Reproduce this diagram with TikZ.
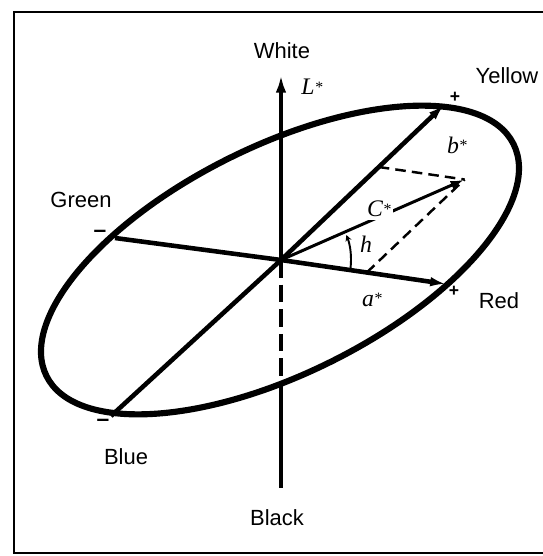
\documentclass[tikz,border=0pt]{standalone}
\usepackage{fontspec}
\setmainfont{Liberation Sans}
\newfontfamily\tms{Liberation Serif}
\newcommand{\starsup}{\raisebox{0.25ex}{\fontsize{9}{9}\selectfont *}}
\usetikzlibrary{arrows.meta,calc}
\begin{document}
\begin{tikzpicture}[x=0.02cm,y=-0.02cm,
  lbl/.style={font=\fontsize{12.5}{14}\selectfont, inner sep=0pt},
  mlbl/.style={font=\fontsize{13.5}{15}\selectfont\tms\itshape, inner sep=0pt},
  sgn/.style={font=\fontsize{10}{12}\selectfont\bfseries, inner sep=0pt},
  msgn/.style={font=\fontsize{13}{14}\selectfont\bfseries, inner sep=0pt},
  ringline/.style={line width=3.5pt},
  axisline/.style={line width=2.6pt},
  axisdash/.style={line width=2.6pt, dash pattern=on 10pt off 4pt},
  chroma/.style={line width=1.7pt},
  projdash/.style={line width=1.4pt, dash pattern=on 6pt off 3.5pt},
  frame/.style={line width=1.3pt},
  bigtip/.style={-{Latex[length=9pt,width=5.5pt]}},
]
\useasboundingbox (0,0) rectangle (543,556);
\clip (0,0) rectangle (543,556);
\draw[frame] (14,12) rectangle (570,553);

% key points
\coordinate (O) at (281,260);
\coordinate (E) at (280,260);
\coordinate (G) at (115,238);
\coordinate (R) at (446,284);
\coordinate (B) at (111,416);
\coordinate (Y) at (444,105);
\coordinate (Ltop) at (281,75);
\coordinate (Lcross) at (281,384);
\coordinate (Lbot) at (281,488);
\coordinate (Fa) at ($(O)!0.52!(R)$);
\coordinate (Fb) at ($(O)!0.60!(Y)$);
\coordinate (T) at ($(Fa)+(Fb)-(O)$);

% ellipse
\draw[ringline, rotate around={26.4:(E)}] (E) ellipse [x radius=5.216cm, y radius=2.276cm];

% L* axis
\draw[axisline, -{Latex[length=10pt,width=6pt]}] (O) -- (Ltop);
\draw[axisdash] (O) -- (Lcross);
\draw[axisline] (Lcross) -- (Lbot);

% a* and b* axes
\draw[axisline] (O) -- (G);
\draw[axisline, bigtip] (O) -- (R);
\draw[axisline] (O) -- (B);
\draw[axisline, bigtip] (O) -- (Y);

% projections
\draw[projdash] (Fb) -- (T);
\draw[projdash] (Fa) -- (T);

% C* vector
\draw[chroma, -{Latex[length=8pt,width=5pt]}] (O) -- (T);
\node[mlbl, fill=white, inner sep=1.5pt] (cstar) at (379,209) {C\starsup};

% hue angle
\draw[line width=1.1pt, -{Stealth[length=3.5pt,width=3.5pt]}] ([shift={(-7:1.4cm)}]O) arc[start angle=-7, end angle=21, radius=1.4cm];
\node[mlbl] (h) at (366,244) {h};

% axis labels
\node[mlbl] (lstar) at (312,87) {L\starsup};
\node[mlbl] (bstar) at (457,145) {b\starsup};
\node[mlbl] (astar) at (372,300) {a\starsup};

% colour names
\node[lbl] (white) at (282,51) {White};
\node[lbl] (yellow) at (507,76) {Yellow};
\node[lbl] (green) at (81,200) {Green};
\node[lbl] (red) at (499,301) {Red};
\node[lbl] (blue) at (126,457) {Blue};
\node[lbl] (black) at (277,518) {Black};

% signs
\node[sgn] (py) at (455,97) {+};
\node[sgn] (pr) at (454,291) {+};
\node[msgn] (mg) at (100,234) {–};
\node[msgn] (mb) at (103,423) {–};
\end{tikzpicture}
\end{document}
